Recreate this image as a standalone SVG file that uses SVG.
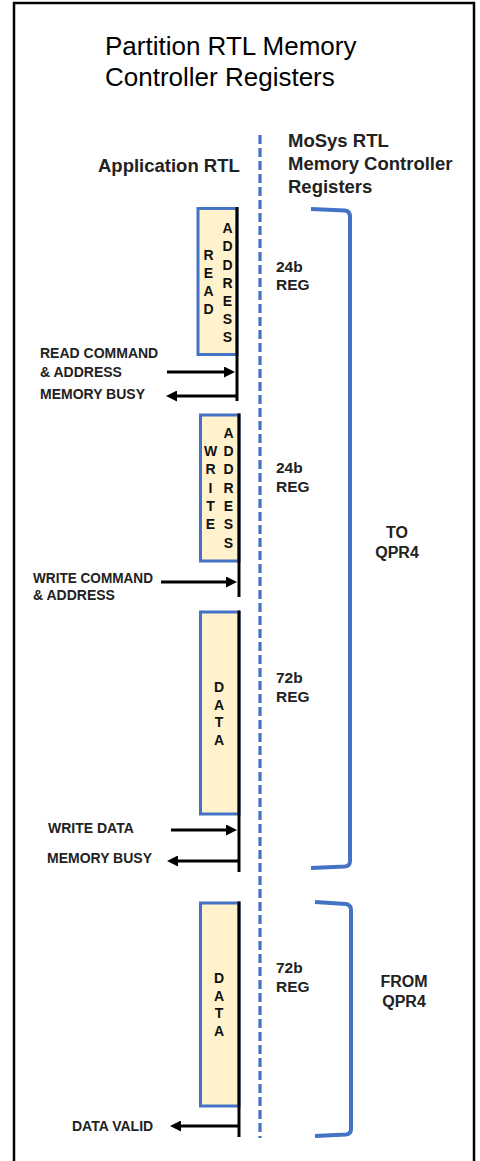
<svg xmlns="http://www.w3.org/2000/svg" width="480" height="1161" viewBox="0 0 480 1161">
<style>
.title{font-family:"Liberation Sans",Arial,sans-serif;font-size:26px;fill:#000}
.hdr{font-family:"Liberation Sans",Arial,sans-serif;font-size:18.5px;font-weight:bold;fill:#222}
.lbl{font-family:"Liberation Sans",Arial,sans-serif;font-size:14px;font-weight:bold;fill:#222}
.ltr{font-family:"Liberation Sans",Arial,sans-serif;font-size:14px;font-weight:bold;fill:#111;text-anchor:middle}
.reg{font-family:"Liberation Sans",Arial,sans-serif;font-size:15.5px;font-weight:bold;fill:#222}
.grp{font-family:"Liberation Sans",Arial,sans-serif;font-size:16px;font-weight:bold;fill:#222;text-anchor:middle}
.box{fill:#FFF2CC;stroke:#4472C4;stroke-width:3}
.bus{stroke:#000;stroke-width:3;fill:none}
.arr{stroke:#000;stroke-width:3;fill:none;marker-end:url(#ah)}
.brk{stroke:#4472C4;stroke-width:4;fill:none}
</style>
<defs>
<marker id="ah" markerUnits="userSpaceOnUse" markerWidth="11" markerHeight="11" viewBox="0 0 11 11" refX="3" refY="5.5" orient="auto">
<path d="M0,0 L11,5.5 L0,11 z" fill="#000"/>
</marker>
</defs>
<rect x="14" y="3" width="460" height="1175" fill="#fff" stroke="#000" stroke-width="2.5"/>
<g id="title">
<text class="title" x="105" y="55">Partition RTL Memory</text>
<text class="title" x="105" y="85.5">Controller Registers</text>
</g>
<g id="header-app"><text class="hdr" x="98" y="172">Application RTL</text></g>
<g id="header-mosys">
<text class="hdr" x="288" y="147">MoSys RTL</text>
<text class="hdr" x="288" y="170">Memory Controller</text>
<text class="hdr" x="288" y="193">Registers</text>
</g>
<g id="divider"><line x1="260" y1="135" x2="260" y2="1138" stroke="#4472C4" stroke-width="3.2" stroke-dasharray="9 4"/></g>
<g id="read-address">
<rect class="box" x="198" y="208.5" width="39" height="146"/>
<text class="ltr" x="208.5" y="260">R</text><text class="ltr" x="208.5" y="278">E</text><text class="ltr" x="208.5" y="296">A</text><text class="ltr" x="208.5" y="314">D</text>
<text class="ltr" x="227.5" y="233">A</text><text class="ltr" x="227.5" y="251">D</text><text class="ltr" x="227.5" y="270">D</text><text class="ltr" x="227.5" y="288">R</text><text class="ltr" x="227.5" y="306">E</text><text class="ltr" x="227.5" y="324">S</text><text class="ltr" x="227.5" y="342">S</text>
<text class="reg" x="276" y="272">24b</text><text class="reg" x="276" y="290">REG</text>
</g>
<g id="write-address">
<rect class="box" x="200.5" y="415" width="38.5" height="146"/>
<text class="ltr" x="210.5" y="456">W</text><text class="ltr" x="210.5" y="474">R</text><text class="ltr" x="210.5" y="493">I</text><text class="ltr" x="210.5" y="511">T</text><text class="ltr" x="210.5" y="529">E</text>
<text class="ltr" x="228.5" y="438">A</text><text class="ltr" x="228.5" y="456">D</text><text class="ltr" x="228.5" y="474">D</text><text class="ltr" x="228.5" y="493">R</text><text class="ltr" x="228.5" y="511">E</text><text class="ltr" x="228.5" y="529">S</text><text class="ltr" x="228.5" y="548">S</text>
<text class="reg" x="276" y="473">24b</text><text class="reg" x="276" y="492">REG</text>
</g>
<g id="write-data">
<rect class="box" x="200.5" y="612" width="38.5" height="202"/>
<text class="ltr" x="219" y="692">D</text><text class="ltr" x="219" y="709.5">A</text><text class="ltr" x="219" y="727">T</text><text class="ltr" x="219" y="744.5">A</text>
<text class="reg" x="276" y="683">72b</text><text class="reg" x="276" y="702">REG</text>
</g>
<g id="read-data">
<rect class="box" x="200.5" y="903" width="38.5" height="203"/>
<text class="ltr" x="219" y="983">D</text><text class="ltr" x="219" y="1000.5">A</text><text class="ltr" x="219" y="1018">T</text><text class="ltr" x="219" y="1035.5">A</text>
<text class="reg" x="276" y="973">72b</text><text class="reg" x="276" y="992">REG</text>
</g>
<g id="to-qpr4">
<path class="brk" d="M311,209 L345,210.5 Q350,211 350,217 L350,861 Q350,866 345,866.5 L311,868"/>
<text class="grp" x="397" y="538">TO</text><text class="grp" x="397" y="558">QPR4</text>
</g>
<g id="from-qpr4">
<path class="brk" d="M315,902 L346,904 Q351,905 351,910 L351,1129 Q351,1134 346,1134.5 L315,1136"/>
<text class="grp" x="404" y="987">FROM</text><text class="grp" x="404" y="1007">QPR4</text>
</g>
<g id="signal-labels">
<text class="lbl" x="40" y="358">READ COMMAND</text>
<text class="lbl" x="40" y="377">&amp; ADDRESS</text>
<text class="lbl" x="40" y="399">MEMORY BUSY</text>
<text class="lbl" x="33" y="583" textLength="120" lengthAdjust="spacingAndGlyphs">WRITE COMMAND</text>
<text class="lbl" x="33" y="600">&amp; ADDRESS</text>
<text class="lbl" x="48" y="833">WRITE DATA</text>
<text class="lbl" x="47" y="863">MEMORY BUSY</text>
<text class="lbl" x="72" y="1131">DATA VALID</text>
</g>
<g id="connectors">
<line class="bus" x1="237" y1="207" x2="237" y2="401"/>
<line class="bus" x1="239" y1="413.5" x2="239" y2="597"/>
<line class="bus" x1="239" y1="610.5" x2="239" y2="872"/>
<line class="bus" x1="239" y1="901.5" x2="239" y2="1137"/>
<line class="arr" x1="167" y1="372" x2="227" y2="372"/>
<line class="arr" x1="237" y1="396" x2="174" y2="396"/>
<line class="arr" x1="161" y1="582" x2="229" y2="582"/>
<line class="arr" x1="171" y1="830" x2="229" y2="830"/>
<line class="arr" x1="239" y1="861" x2="175" y2="861"/>
<line class="arr" x1="239" y1="1126" x2="178" y2="1126"/>
</g>
</svg>
